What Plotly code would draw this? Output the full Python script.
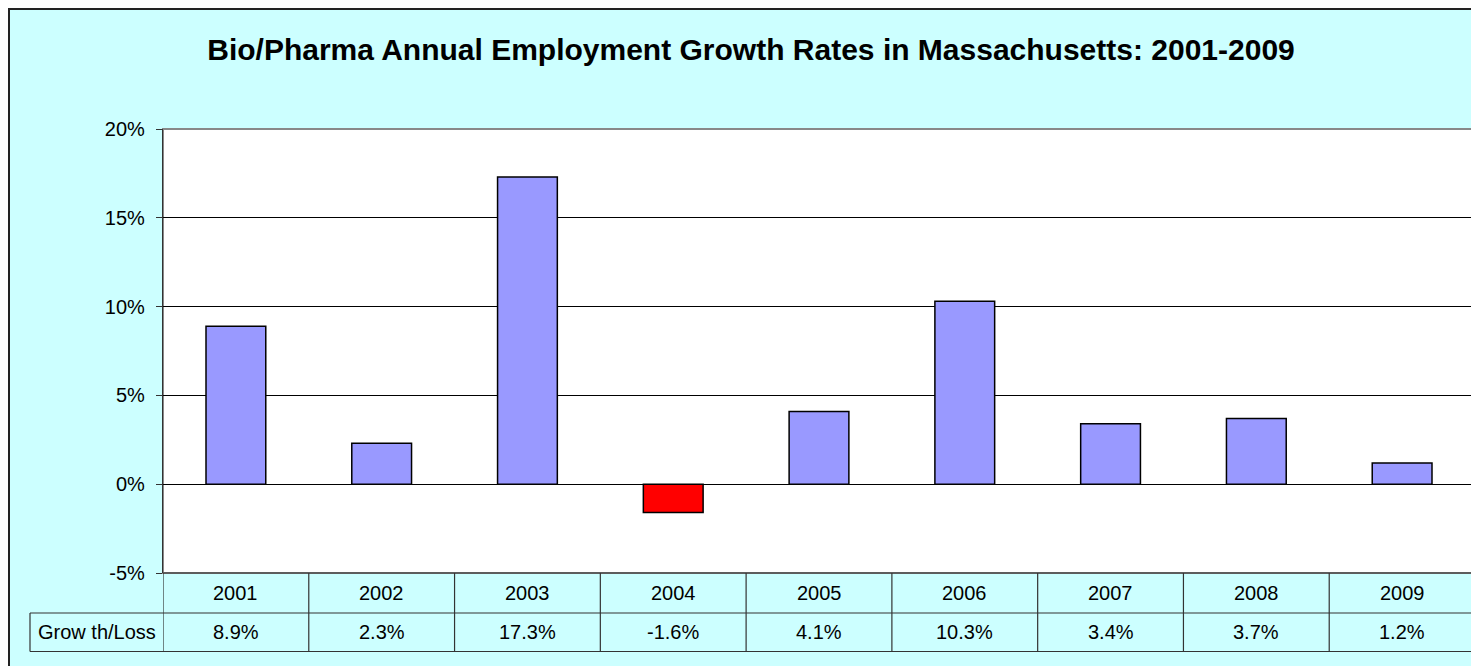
import plotly.graph_objects as go

years = ["2001", "2002", "2003", "2004", "2005", "2006", "2007", "2008", "2009"]
growth = [8.9, 2.3, 17.3, -1.6, 4.1, 10.3, 3.4, 3.7, 1.2]
row_label = "Grow th/Loss"
title_text = "Bio/Pharma Annual Employment Growth Rates in Massachusetts: 2001-2009"
y_ticks = [-5, 0, 5, 10, 15, 20]
y_tick_text = ["-5%", "0%", "5%", "10%", "15%", "20%"]

POS = "#9999FF"
NEG = "#FF0000"
BG = "#CCFFFF"
FONT = "Arial, Liberation Sans, sans-serif"

OFF = 8  # page offset of the figure
W, H = 1471, 658
ML, MR, MT, MB = 163 - OFF, 4, 129 - OFF, 93
pw = W - ML - MR
ph = H - MT - MB

def py(pix):
    # reference pixel row -> paper y
    return (H - MB - (pix - OFF)) / ph

def px(pix):
    # reference pixel column -> paper x
    return ((pix - OFF) - ML) / pw

colors = [NEG if v < 0 else POS for v in growth]

fig = go.Figure()
fig.add_trace(go.Bar(
    x=list(range(len(years))), y=growth,
    marker=dict(color=colors, line=dict(color="#000000", width=1.5)),
    width=0.41, showlegend=False, hoverinfo="skip",
))

shapes = []
# outer chart border
shapes.append(dict(type="rect", xref="paper", yref="paper",
                   x0=px(9), x1=px(1500), y0=py(9), y1=py(700),
                   line=dict(color="#222222", width=2), layer="below"))
# plot area white
shapes.append(dict(type="rect", xref="paper", yref="paper",
                   x0=0, x1=1, y0=0, y1=1,
                   line=dict(color="#888888", width=2), fillcolor="#FFFFFF", layer="below"))
# table lines
tl = dict(color="#333333", width=1.2)
y_row1 = py(613)
y_row2 = py(651.5)
shapes.append(dict(type="line", xref="paper", yref="paper", x0=px(30), x1=1, y0=y_row1, y1=y_row1, line=tl))
shapes.append(dict(type="line", xref="paper", yref="paper", x0=px(30), x1=1, y0=y_row2, y1=y_row2, line=tl))
shapes.append(dict(type="line", xref="paper", yref="paper", x0=px(30), x1=px(30), y0=y_row1, y1=y_row2, line=tl))
shapes.append(dict(type="line", xref="paper", yref="paper", x0=0, x1=1, y0=0, y1=0, line=tl))
for k in range(len(years) + 1):
    xv = k - 0.5
    shapes.append(dict(type="line", xref="x", yref="paper", x0=xv, x1=xv, y0=0, y1=y_row2, line=tl))

tf = dict(family=FONT, size=20, color="#000000")
annotations = []
for i, (yr, v) in enumerate(zip(years, growth)):
    annotations.append(dict(x=i, y=(0 + y_row1) / 2, xref="x", yref="paper", text=yr,
                            xanchor="center", yanchor="middle", showarrow=False, font=tf))
    annotations.append(dict(x=i, y=(y_row1 + y_row2) / 2, xref="x", yref="paper", text=f"{v:.1f}%",
                            xanchor="center", yanchor="middle", showarrow=False, font=tf))
annotations.append(dict(x=(px(30) + 0) / 2, y=(y_row1 + y_row2) / 2, xref="paper", yref="paper",
                        text=row_label, xanchor="center", yanchor="middle",
                        showarrow=False, font=tf))

fig.update_layout(
    width=W, height=H,
    margin=dict(l=ML, r=MR, t=MT, b=MB),
    paper_bgcolor=BG,
    plot_bgcolor="rgba(0,0,0,0)",
    title=dict(text="<b>" + title_text + "</b>", xref="paper", x=px(751), xanchor="center",
               yref="container", y=1 - (49 - OFF) / H, yanchor="middle",
               font=dict(family=FONT, size=30, color="#000000")),
    xaxis=dict(range=[-0.5, len(years) - 0.5], showticklabels=False, showgrid=False,
               zeroline=False, showline=False, ticks=""),
    yaxis=dict(range=[-5, 20], tickvals=y_ticks, ticktext=y_tick_text,
               showgrid=True, gridcolor="#000000", gridwidth=1,
               zeroline=True, zerolinecolor="#000000", zerolinewidth=1.2,
               showline=True, linecolor="#333333", linewidth=1.2,
               ticks="outside", ticklen=6, tickcolor="#333333",
               ticklabelstandoff=7,
               tickfont=tf),
    shapes=shapes,
    annotations=annotations,
)

fig.write_html("out.html")
